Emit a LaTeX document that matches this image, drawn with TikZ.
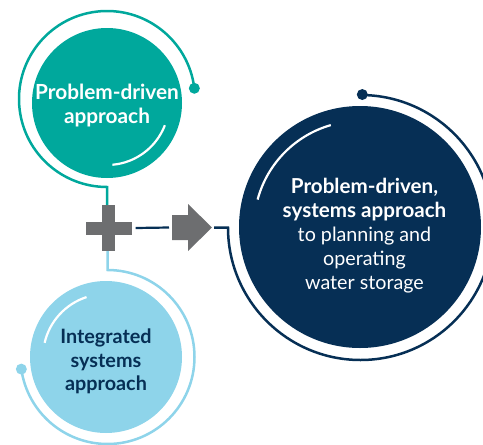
\documentclass[tikz,border=0pt]{standalone}
\usepackage{fontspec}
\setmainfont{Lato}
\usetikzlibrary{calc}
\definecolor{tealc}{HTML}{00A89C}
\definecolor{navyc}{HTML}{062F55}
\definecolor{bluec}{HTML}{8ED4EA}
\definecolor{grayc}{HTML}{6D6E70}
\tikzset{
  ring/.style={line width=2.5pt},
  hilite/.style={white, line width=2.2pt},
  bigtxt/.style={align=center, font=\fontsize{19}{24}\selectfont},
  blob/.style={circle, inner sep=0pt},
}
\begin{document}
\begin{tikzpicture}[x=1pt,y=-1pt]
\useasboundingbox (0,0) rectangle (483,445);
\clip (0,0) rectangle (483,445);

% filled circles
\node[blob, fill=tealc, minimum size=150pt] (pd) at (107,103) {};
\node[blob, fill=navyc, minimum size=242pt] (res) at (360,227) {};
\node[blob, fill=bluec, minimum size=152pt] (isa) at (106,357) {};

% white highlight arcs
\draw[hilite] (107,103) ++(85:62) arc[start angle=85, end angle=21, radius=62];
\draw[hilite] (360,227) ++(-106:106) arc[start angle=-106, end angle=-165, radius=106];
\draw[hilite] (106,357) ++(-108:63) arc[start angle=-108, end angle=-167, radius=63];

% plus sign
\node[minimum size=46pt, inner sep=0pt] (plus) at (108.5,228) {};
\fill[grayc] (plus.center) +(-23,-6.5) rectangle +(23,6.5);
\fill[grayc] (plus.center) +(-6.5,-23) rectangle +(6.5,23);

% arrow
\coordinate (arrtail) at (172,227.5);
\coordinate (arrtip) at (212,227.5);
\fill[grayc] (arrtail) -- ++(0,-12.5) -- ++(16,0) -- ++(0,-11) -- (arrtip)
  -- (188,251) -- ++(0,-11) -- ++(-16,0) -- cycle;

% dots
\coordinate (tdot) at ($(107,99)+(-7:88)$);
\coordinate (ndot) at ($(360,227)+(-89:132.5)$);
\coordinate (bdot) at ($(107.5,357)+(172:87)$);
\fill[tealc] (tdot) circle[radius=5.5];
\fill[navyc] (ndot) circle[radius=5.5];
\fill[bluec] (bdot) circle[radius=5.5];

% rings and connectors
\draw[tealc, ring] (tdot) arc[start angle=-7, end angle=-270, radius=88] -- (plus.north -| 107,0);
\draw[bluec, ring] (plus.south -| 107.5,0) -- (107.5,270) arc[start angle=-90, end angle=172, radius=87];
\draw[navyc, ring] (arrtip) ++(2,0) -- (228,227.5) arc[start angle=180, end angle=-89, radius=132.5];
\draw[navyc, line width=2.2pt] (plus.east) ++(4,0) -- ($(arrtail)+(-3,0)$);

% texts
\node[bigtxt, text=white, font=\bfseries\fontsize{20.8}{24}\selectfont] (pdt) at (107,105.5) {Problem-driven\\approach};
\node[bigtxt, text=navyc, font=\bfseries\fontsize{19.8}{23.5}\selectfont] (isat) at (106,361.5) {Integrated\\systems\\approach};
\node[bigtxt, text=white, font=\fontsize{19.7}{24}\selectfont] (rest) at (364.5,235.5) {{\fontsize{20.6}{24}\selectfont\bfseries Problem-driven,}\\{\fontsize{20.6}{24}\selectfont\bfseries systems approach}\\to planning and\\operating\\water storage};
\end{tikzpicture}
\end{document}
